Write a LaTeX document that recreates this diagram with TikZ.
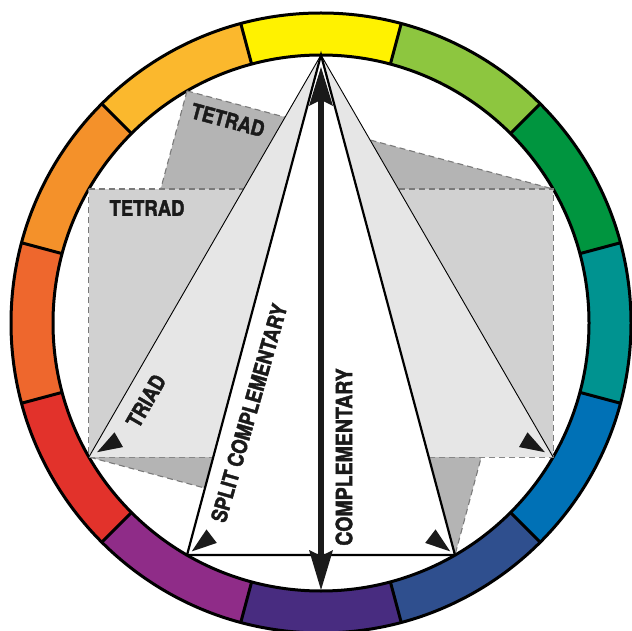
\documentclass[tikz,border=0pt]{standalone}
\usepackage{fontspec}
\setsansfont{TeX Gyre Heros}
\newfontfamily\lblfont{TeX Gyre Heros}[BoldFeatures={FakeBold=2}]
\definecolor{cY}{HTML}{FFF200}
\definecolor{cYG}{HTML}{8DC63F}
\definecolor{cG}{HTML}{00953F}
\definecolor{cT}{HTML}{009390}
\definecolor{cB}{HTML}{0071B6}
\definecolor{cDB}{HTML}{2F4F8E}
\definecolor{cV}{HTML}{482C80}
\definecolor{cP}{HTML}{8F2C88}
\definecolor{cR}{HTML}{E2322B}
\definecolor{cRO}{HTML}{EE672D}
\definecolor{cO}{HTML}{F4912A}
\definecolor{cYO}{HTML}{FBB82D}
\definecolor{gDark}{HTML}{B4B4B4}
\definecolor{gMid}{HTML}{D1D1D1}
\definecolor{gLight}{HTML}{E6E6E6}
\definecolor{gDash}{HTML}{7A7A7A}
\definecolor{ink}{HTML}{1A1A1A}
\newcommand\minihead[2]{\fill[ink,shift={#1},rotate=#2] (0,0) -- (-25,8.5) -- (-25,-8.5) -- cycle;}
\begin{document}
\begin{tikzpicture}[x=1pt,y=1pt,
  ring/.style={line width=3pt,draw=black},
  tetrabox/.style={draw=gDash,line width=1.1pt,dash pattern=on 6pt off 4pt},
  lbl/.style={font=\lblfont\bfseries\fontsize{18.5}{18.5}\selectfont,text=ink,inner sep=0pt,yscale=1.15}]
\useasboundingbox (0,0) rectangle (632,630);
\fill[white] (0,0) rectangle (632,630);
\coordinate (C) at (321,307);
\begin{scope}[shift={(C)}]
  \foreach \a/\cc in {90/cY,60/cYG,30/cG,0/cT,-30/cB,-60/cDB,-90/cV,-120/cP,-150/cR,180/cRO,150/cO,120/cYO}{
    \fill[\cc] (\a-15:268) arc[start angle=\a-15,end angle=\a+15,radius=268]
      -- (\a+15:310) arc[start angle=\a+15,end angle=\a-15,radius=310] -- cycle;
  }
  \foreach \a in {0,30,...,330}{\draw[ring] (\a+15:268) -- (\a+15:310);}
  \draw[ring] (0,0) circle[radius=268];
  \draw[ring] (0,0) circle[radius=310];
  \coordinate (A) at (90:268);
  \coordinate (Q120) at (120:268);
  \coordinate (Q150) at (150:268);
  \coordinate (Q30) at (30:268);
  \coordinate (T1) at (210:268);
  \coordinate (T2) at (330:268);
  \coordinate (S1) at (240:268);
  \coordinate (S2) at (300:268);
  \coordinate (B) at (270:268);
\end{scope}
% tetrads
\filldraw[fill=gDark,tetrabox] (Q120) -- (Q30) -- (S2) -- (T1) -- cycle;
\filldraw[fill=gMid,tetrabox] (Q150) -- (Q30) -- (T2) -- (T1) -- cycle;
% triad
\fill[gLight] (A) -- (T1) -- (T2) -- cycle;
\draw[line width=0.9pt] (T1) -- (A) -- (T2);
% split complementary
\filldraw[fill=white,draw=black,line width=2.2pt,line join=miter] (A) -- (S1) -- (S2) -- cycle;
% complementary arrow
\coordinate (Atip) at (321,563);
\coordinate (Btip) at (321,40);
\draw[ink,line width=6pt] ([yshift=-32pt]Atip) -- ([yshift=34pt]Btip);
\fill[ink] (Atip) -- ++(12,-39) -- ++(-12,6) -- ++(-12,-6) -- cycle;
\fill[ink] (Btip) -- ++(12,40) -- ++(-12,-6) -- ++(-12,6) -- cycle;
% small arrowheads
\minihead{(97.1,177.8)}{210}
\minihead{(544.9,177.8)}{330}
\minihead{(191.8,78.6)}{217.5}
\minihead{(450.2,78.6)}{322.5}
% labels
\node[rotate=-15,lbl] (tet1) at (228,510) {TETRAD};
\node[lbl] (tet2) at (147,422) {TETRAD};
\node[rotate=60,lbl] (tri) at (146,229) {TRIAD};
\node[rotate=74,lbl] (split) at (249,217) {SPLIT COMPLEMENTARY};
\node[rotate=90,lbl,font=\lblfont\bfseries\fontsize{19.5}{19.5}\selectfont] (comp) at (344,173) {COMPLEMENTARY};
\end{tikzpicture}
\end{document}
